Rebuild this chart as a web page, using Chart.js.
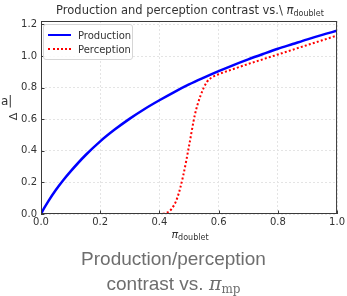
<!DOCTYPE html>
<html>
<head>
<meta charset="utf-8">
<script src="https://cdn.jsdelivr.net/npm/chart.js@4.4.1/dist/chart.umd.min.js"></script>
<style>
    body { margin: 0; background: #fff; font-family: "DejaVu Sans", sans-serif; }
    #wrap { position: relative; width: 347px; height: 296px; overflow: hidden; }
    #box { position: absolute; left: 0; top: 0; width: 347px; height: 245px; }
    #title { position: absolute; left: 41px; width: 298px; top: 3px; text-align: center; font-size: 11.5px; color: #333; white-space: nowrap; }
    #xtitle { position: absolute; left: 41px; width: 298px; top: 228px; text-align: center; font-size: 11px; color: #333; }
    sub { font-size: 8px; vertical-align: -2px; font-style: normal; }
    #ylab1 { position: absolute; left: 1px; top: 94px; font-size: 12px; color: #333; }
    #ylab2 { position: absolute; left: 10px; top: 110px; font-size: 11px; color: #333; transform: rotate(-90deg); transform-origin: center; }
    #legend { position: absolute; left: 43px; top: 24px; width: 88px; height: 34px; border: 1px solid #d6d6d6; border-radius: 3px; background: rgba(255,255,255,0.85); font-size: 10px; color: #333; }
    .item { position: absolute; left: 4px; height: 12px; display: flex; align-items: center; }
    .swatch { width: 23px; height: 0; margin-right: 7px; }
    #cap { position: absolute; left: 0; width: 347px; top: 247px; text-align: center; color: #6e6e6e; font-family: "Liberation Sans", sans-serif; font-size: 19px; line-height: 24px; }
    .mp { font-family: "DejaVu Serif", serif; }
    .mp sub { font-size: 12px; vertical-align: -3px; }
</style>
</head>
<body>
<div id="wrap">
    <div id="box"><canvas id="chart" width="347" height="245"></canvas></div>
    <div id="title">Production and perception contrast vs.\ <i>π</i><sub>doublet</sub></div>
    <div id="xtitle"><i>π</i><sub>doublet</sub></div>
    <div id="ylab1">a|</div>
    <div id="ylab2">Δ</div>
    <div id="legend">
        <div class="item" style="top:4px"><span class="swatch" style="border-top:2.5px solid #0000ff"></span>Production</div>
        <div class="item" style="top:18px"><span class="swatch" style="border-top:2px dotted #ff0000"></span>Perception</div>
    </div>
    <div id="cap">Production/perception<br>contrast vs. <span class="mp"><i>π</i><sub>mp</sub></span></div>
</div>
<script>
// valeurs
const piProd = [0, 0.01, 0.025, 0.05, 0.075, 0.1, 0.15, 0.2, 0.25, 0.3, 0.35, 0.4, 0.45, 0.5, 0.55, 0.6, 0.65, 0.7, 0.75, 0.8, 0.85, 0.9, 0.95, 1.0];
const production = [0, 0.035, 0.082, 0.152, 0.214, 0.27, 0.372, 0.46, 0.536, 0.604, 0.665, 0.72, 0.772, 0.82, 0.863, 0.904, 0.943, 0.979, 1.013, 1.046, 1.076, 1.106, 1.134, 1.16];

const piPerc = [0, 0.1, 0.2, 0.3, 0.4, 0.42, 0.44, 0.46, 0.48, 0.5, 0.52, 0.54, 0.56, 0.58, 0.6, 0.65, 0.7, 0.75, 0.8, 0.85, 0.9, 0.95, 1.0];
const perception = [0, 0, 0, 0, 0, 0.005, 0.03, 0.1, 0.24, 0.43, 0.63, 0.755, 0.835, 0.868, 0.885, 0.918, 0.95, 0.98, 1.01, 1.04, 1.07, 1.1, 1.13];

const xTicks = [0, 0.2, 0.4, 0.6, 0.8, 1.0];
const yTicks = [0, 0.2, 0.4, 0.6, 0.8, 1.0, 1.2];

// cadre + graduations vers l'intérieur (style matplotlib)
const framePlugin = {
    id: 'frame',
    afterDraw(chart) {
        const { ctx, chartArea: a, scales } = chart;
        ctx.save();
        ctx.strokeStyle = '#3a3a3a';
        ctx.lineWidth = 1;
        ctx.strokeRect(a.left + 0.5, a.top + 0.5, a.right - a.left - 1, a.bottom - a.top - 1);
        ctx.beginPath();
        xTicks.forEach(v => {
            const x = Math.round(scales.x.getPixelForValue(v)) + 0.5;
            ctx.moveTo(x, a.bottom); ctx.lineTo(x, a.bottom - 3.5);
        });
        yTicks.forEach(v => {
            const y = Math.round(scales.y.getPixelForValue(v)) + 0.5;
            ctx.moveTo(a.left, y); ctx.lineTo(a.left + 3.5, y);
        });
        ctx.stroke();
        ctx.restore();
    }
};

new Chart(document.getElementById('chart'), {
    type: 'line',
    data: {
        datasets: [{
            label: 'Production',
            data: piProd.map((x, i) => ({ x, y: production[i] })),
            borderColor: '#0000ff',
            borderWidth: 2.5,
            pointRadius: 0,
            cubicInterpolationMode: 'monotone',
        }, {
            label: 'Perception',
            data: piPerc.map((x, i) => ({ x, y: perception[i] })),
            borderColor: '#ff0000',
            borderWidth: 2,
            borderDash: [2, 2.2],
            pointRadius: 0,
            cubicInterpolationMode: 'monotone',
        }]
    },
    options: {
        responsive: false,
        animation: false,
        maintainAspectRatio: false,
        layout: { padding: { left: 0, right: 8, top: 21, bottom: 0 } },
        plugins: { legend: { display: false }, tooltip: { enabled: false } },
        scales: {
            x: {
                type: 'linear', min: 0, max: 1,
                afterBuildTicks: s => { s.ticks = xTicks.map(v => ({ value: v })); },
                afterFit: s => { s.height = 31; },
                ticks: { callback: v => v.toFixed(1), color: '#333', font: { family: 'DejaVu Sans', size: 10 }, padding: 2, maxRotation: 0 },
                grid: { color: '#e4e4e4', drawTicks: false },
                border: { display: false, dash: [2, 2] }
            },
            y: {
                type: 'linear', min: 0, max: 1.222,
                afterBuildTicks: s => { s.ticks = yTicks.map(v => ({ value: v })); },
                afterFit: s => { s.width = 41; },
                ticks: { callback: v => v.toFixed(1), color: '#333', font: { family: 'DejaVu Sans', size: 10 }, padding: 4 },
                grid: { color: '#e4e4e4', drawTicks: false },
                border: { display: false, dash: [2, 2] }
            }
        }
    },
    plugins: [framePlugin]
});
</script>
</body>
</html>
